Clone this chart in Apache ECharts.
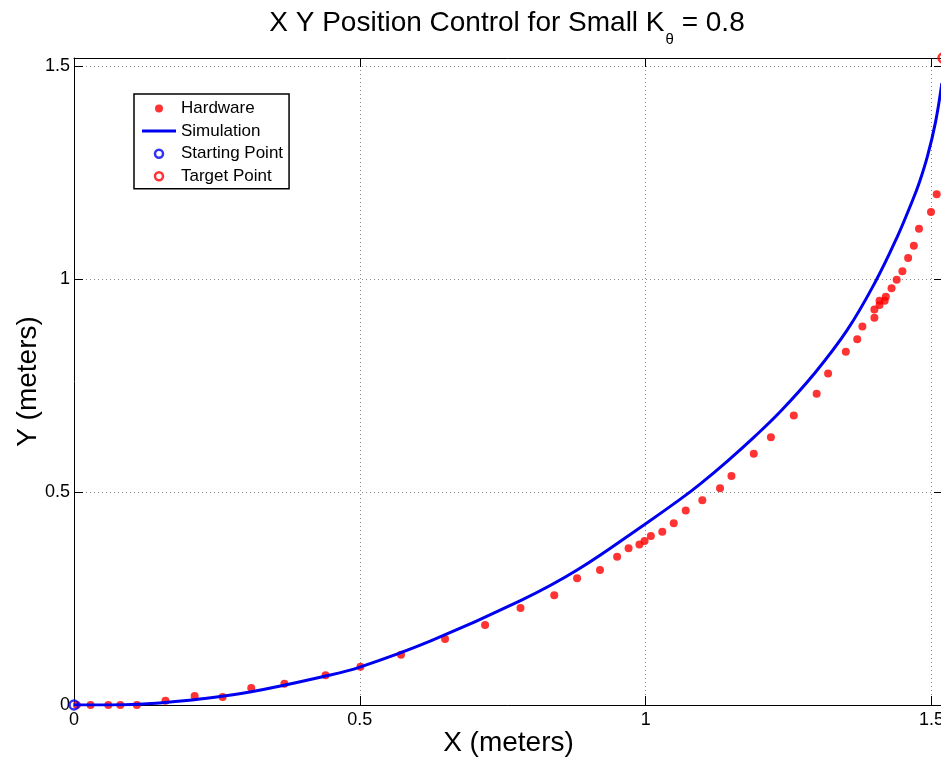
<!DOCTYPE html>
<html>
<head>
<meta charset="utf-8">
<script src="https://cdn.jsdelivr.net/npm/echarts@6/dist/echarts.min.js"></script>
<style>
html,body{margin:0;padding:0;background:#fff;}
#chart{width:941px;height:760px;}
</style>
</head>
<body>
<div id="chart"></div>
<script>
// ---- data ----
const xTicks = [0, 0.5, 1, 1.5];
const yTicks = [0, 0.5, 1, 1.5];
const axisMax = 1.52;

const hwX = [0.005, 0.029, 0.060, 0.081, 0.110, 0.160, 0.211, 0.260, 0.310, 0.368,
             0.440, 0.501, 0.572, 0.649, 0.719, 0.781, 0.840, 0.880, 0.920, 0.950,
             0.970, 0.989, 0.998, 1.009, 1.029, 1.049, 1.070, 1.099, 1.130, 1.150,
             1.189, 1.219, 1.259, 1.299, 1.319, 1.350, 1.370, 1.379, 1.400, 1.400,
             1.409, 1.409, 1.418, 1.420, 1.430, 1.439, 1.449, 1.459, 1.469, 1.478,
             1.499, 1.509];
const hwY = [0, 0, 0, 0, 0, 0.010, 0.021, 0.019, 0.040, 0.050,
             0.070, 0.090, 0.118, 0.155, 0.188, 0.228, 0.258, 0.298, 0.317, 0.348,
             0.368, 0.377, 0.385, 0.397, 0.407, 0.427, 0.457, 0.481, 0.509, 0.538,
             0.590, 0.629, 0.680, 0.731, 0.779, 0.830, 0.859, 0.889, 0.910, 0.929,
             0.940, 0.950, 0.950, 0.959, 0.979, 0.999, 1.019, 1.050, 1.079, 1.119,
             1.158, 1.200];

const simX = [0, 0.05, 0.10, 0.16, 0.22, 0.31, 0.44, 0.50, 0.623, 0.781, 0.880, 1.0,
              1.060, 1.095, 1.142, 1.19, 1.236, 1.294, 1.352, 1.402, 1.440, 1.466,
              1.478, 1.493, 1.507, 1.518];
const simY = [0, 0, 0.001, 0.006, 0.014, 0.031, 0.068, 0.089, 0.150, 0.245, 0.317, 0.426,
              0.483, 0.519, 0.572, 0.630, 0.690, 0.777, 0.880, 0.995, 1.100, 1.183,
              1.225, 1.290, 1.370, 1.461];

const startPoint = [0, 0];
const targetPoint = [1.52, 1.52];

const seriesNames = ['Hardware', 'Simulation', 'Starting Point', 'Target Point'];

// ---- chart ----
const RED = '#ff0000';
const BLUE = '#0000f0';
const FONT = "'Liberation Sans', Arial, sans-serif";

const hwData = hwX.map((x, i) => [x, hwY[i]]);
const simData = simX.map((x, i) => [x, simY[i]]);

const chart = echarts.init(document.getElementById('chart'), null, {renderer: 'canvas'});

function baseAxis(extra) {
  return Object.assign({
    type: 'value',
    min: 0,
    max: axisMax,
    interval: 0.5,
    axisLine: {show: true, onZero: false, lineStyle: {color: '#000', width: 1}},
    axisTick: {show: true, inside: true, length: 9, lineStyle: {color: '#000', width: 1}},
    axisLabel: {show: false},
    splitLine: {show: false}
  }, extra);
}

const option = {
  backgroundColor: '#fff',
  animation: false,
  title: {
    text: '{m|X Y Position Control for Small K}{s|θ}{m| = 0.8}',
    left: 507,
    top: 9,
    padding: 0,
    textAlign: 'center',
    textStyle: {
      fontFamily: FONT,
      fontWeight: 'normal',
      color: '#000',
      rich: {
        m: {fontFamily: FONT, fontSize: 28, lineHeight: 32, verticalAlign: 'top', color: '#000'},
        s: {fontFamily: FONT, fontSize: 15, lineHeight: 15, verticalAlign: 'top', padding: [23, 0, 0, 1], color: '#000'}
      }
    }
  },
  legend: {
    orient: 'vertical',
    left: 134,
    top: 94,
    padding: [6, 6, 4, 8],
    itemGap: 5.6,
    itemWidth: 34,
    itemHeight: 8,
    borderColor: '#000',
    borderWidth: 1.5,
    backgroundColor: '#fff',
    selectedMode: false,
    textStyle: {fontFamily: FONT, fontSize: 17, lineHeight: 17, color: '#000', padding: [0, 0, 0, 0]},
    data: [
      {name: seriesNames[0], icon: 'circle', itemStyle: {color: RED, borderWidth: 0}},
      {name: seriesNames[1], icon: 'path://M0,0L34,0L34,3L0,3Z', itemStyle: {color: BLUE, borderWidth: 0}},
      {name: seriesNames[2], icon: 'circle', itemStyle: {color: '#fff', borderColor: BLUE, borderWidth: 2.5}},
      {name: seriesNames[3], icon: 'circle', itemStyle: {color: '#fff', borderColor: RED, borderWidth: 2.5}}
    ]
  },
  grid: {left: 74, top: 58, right: -2, bottom: 55, containLabel: false, outerBoundsMode: 'none'},
  xAxis: [
    baseAxis({
      position: 'bottom',
      name: 'X (meters)',
      nameLocation: 'middle',
      nameGap: 24,
      nameMoveOverlap: false,
      nameTextStyle: {fontFamily: FONT, fontSize: 28, color: '#000'},
      axisLabel: {show: true, showMaxLabel: false, fontFamily: FONT, fontSize: 18, color: '#000', margin: 6,
        formatter: v => (xTicks.indexOf(v) >= 0 ? String(v) : '')},
      splitLine: {show: true, lineStyle: {color: '#888', width: 1, type: [1, 3]}}
    }),
    baseAxis({position: 'top'})
  ],
  yAxis: [
    baseAxis({
      position: 'left',
      name: 'Y (meters)',
      nameLocation: 'middle',
      nameGap: 32,
      nameMoveOverlap: false,
      nameRotate: 90,
      nameTextStyle: {fontFamily: FONT, fontSize: 28, color: '#000'},
      axisLabel: {show: true, showMaxLabel: false, fontFamily: FONT, fontSize: 18, color: '#000', margin: 4,
        formatter: v => (yTicks.indexOf(v) >= 0 ? String(v) : '')},
      splitLine: {show: true, lineStyle: {color: '#888', width: 1, type: [1, 3]}}
    }),
    baseAxis({position: 'right'})
  ],
  series: [
    {
      name: seriesNames[0],
      type: 'scatter',
      data: hwData,
      symbol: 'circle',
      symbolSize: 8,
      itemStyle: {color: RED},
      clip: false,
      z: 2
    },
    {
      name: seriesNames[1],
      type: 'line',
      data: simData,
      showSymbol: false,
      symbol: 'none',
      smooth: 0.4,
      lineStyle: {color: BLUE, width: 3},
      itemStyle: {color: BLUE},
      z: 3
    },
    {
      name: seriesNames[2],
      type: 'scatter',
      data: [startPoint],
      symbol: 'circle',
      symbolSize: 9,
      itemStyle: {color: 'rgba(255,255,255,0)', borderColor: BLUE, borderWidth: 2.5},
      clip: false,
      z: 4
    },
    {
      name: seriesNames[3],
      type: 'scatter',
      data: [targetPoint],
      symbol: 'circle',
      symbolSize: 9,
      itemStyle: {color: 'rgba(255,255,255,0)', borderColor: RED, borderWidth: 2.5},
      clip: false,
      z: 4
    }
  ]
};

chart.setOption(option);
</script>
</body>
</html>
